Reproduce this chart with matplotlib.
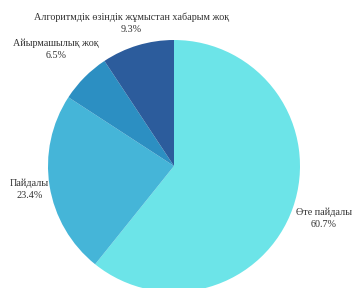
import numpy as np
import matplotlib.pyplot as plt

plt.rcParams['font.family'] = ['Liberation Serif', 'DejaVu Serif']

labels = ['Өте пайдалы', 'Пайдалы', 'Айырмашылық жоқ',
          'Алгоритмдік өзіндік жұмыстан хабарым жоқ']
values = [60.7, 23.4, 6.5, 9.3]
colors = ['#6ce4e8', '#45b5d8', '#2c8fc2', '#2c5c9c']
label_dist = [1.26, 1.16, 1.32, 1.18]

fig = plt.figure(figsize=(3.52, 2.88), dpi=100)
W, H = 352, 288
cx, cy, r = 174, 166, 126
ax = fig.add_axes([(cx - r) / W, (H - cy - r) / H, 2 * r / W, 2 * r / H])

wedges, _ = ax.pie(values, colors=colors, startangle=90, counterclock=False,
                   radius=1, wedgeprops=dict(linewidth=0))

for w, lab, v, d in zip(wedges, labels, values, label_dist):
    ang = np.deg2rad((w.theta1 + w.theta2) / 2)
    ax.text(d * np.cos(ang), d * np.sin(ang), f'{lab}\n{v}%',
            ha='center', va='center', fontsize=7.3, color='#333333',
            linespacing=1.45)

ax.set_xlim(-1, 1)
ax.set_ylim(-1, 1)
ax.set_aspect('equal')
ax.axis('off')

fig.savefig('out.png', dpi=100)
